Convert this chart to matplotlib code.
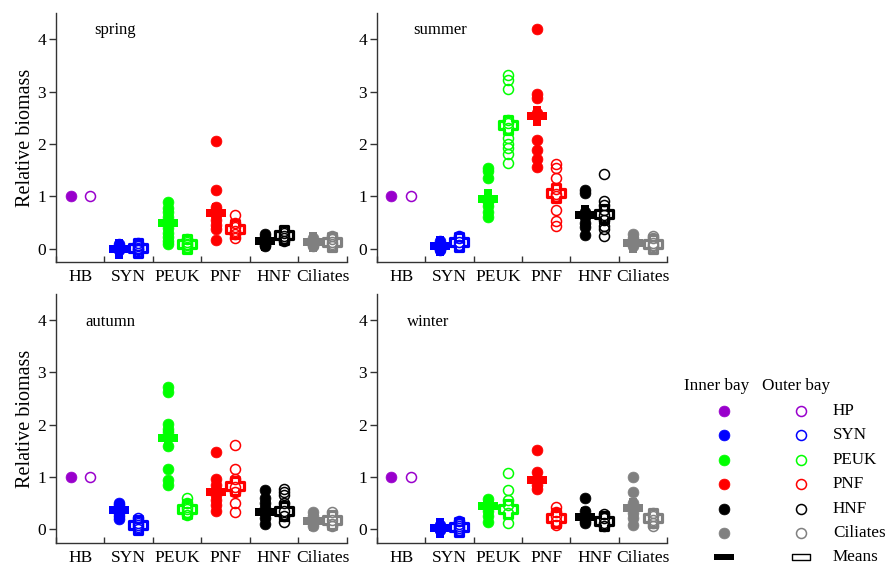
import matplotlib
matplotlib.use("Agg")
import matplotlib.pyplot as plt
from matplotlib.path import Path

plt.rcParams['font.family'] = ['Liberation Serif', 'DejaVu Serif']

groups = ["HB", "SYN", "PEUK", "PNF", "HNF", "Ciliates"]
legend_names = ["HP", "SYN", "PEUK", "PNF", "HNF", "Ciliates"]
colors = ["#9900CC", "#0000FF", "#00FF00", "#FF0000", "#000000", "#808080"]
seasons = ["spring", "summer", "autumn", "winter"]

# values (relative biomass, HB = 1)
spring_inner = [
    [1.0],
    [0.0, 0.02, 0.04, 0.06, 0.1, -0.02, 0.01, 0.03],
    [0.9, 0.78, 0.7, 0.6, 0.5, 0.4, 0.3, 0.22, 0.15, 0.1],
    [2.05, 1.12, 0.8, 0.75, 0.65, 0.55, 0.45, 0.38, 0.17],
    [0.28, 0.22, 0.17, 0.12, 0.08, 0.05],
    [0.2, 0.16, 0.12, 0.1, 0.07, 0.05],
]
spring_inner_mean = [None, 0.0, 0.5, 0.69, 0.16, 0.13]
spring_outer = [
    [1.0],
    [0.12, 0.08, 0.05, 0.02, 0.0, -0.03],
    [0.18, 0.14, 0.1, 0.07, 0.04, 0.02],
    [0.65, 0.5, 0.42, 0.35, 0.28, 0.2],
    [0.35, 0.3, 0.25, 0.2, 0.16],
    [0.24, 0.18, 0.13, 0.09, 0.05],
]
spring_outer_mean = [None, 0.02, 0.09, 0.37, 0.27, 0.14]

summer_inner = [
    [1.0],
    [0.15, 0.1, 0.06, 0.03, 0.0, -0.02],
    [1.55, 1.48, 1.36, 0.9, 0.81, 0.7, 0.6],
    [4.19, 2.95, 2.88, 2.6, 2.08, 1.89, 1.72, 1.57],
    [1.12, 1.06, 0.7, 0.6, 0.5, 0.41, 0.27],
    [0.28, 0.2, 0.15, 0.1, 0.05],
]
summer_inner_mean = [None, 0.06, 0.95, 2.53, 0.65, 0.11]
summer_outer = [
    [1.0],
    [0.25, 0.2, 0.13, 0.08, 0.05],
    [3.31, 3.22, 3.05, 2.45, 2.4, 2.3, 2.11, 2.0, 1.92, 1.81, 1.63],
    [1.61, 1.54, 1.35, 1.15, 1.05, 1.0, 0.74, 0.53, 0.44],
    [1.43, 0.91, 0.84, 0.75, 0.65, 0.55, 0.44, 0.38, 0.25],
    [0.25, 0.2, 0.12, 0.08, 0.05],
]
summer_outer_mean = [None, 0.13, 2.37, 1.07, 0.66, 0.1]

autumn_inner = [
    [1.0],
    [0.5, 0.45, 0.4, 0.35, 0.3, 0.25, 0.19],
    [2.71, 2.63, 2.01, 1.92, 1.85, 1.59, 1.15, 0.94, 0.85],
    [1.48, 0.96, 0.85, 0.75, 0.65, 0.55, 0.45, 0.34],
    [0.75, 0.6, 0.5, 0.4, 0.3, 0.2, 0.1],
    [0.32, 0.25, 0.18, 0.12, 0.05],
]
autumn_inner_mean = [None, 0.37, 1.75, 0.71, 0.32, 0.15]
autumn_outer = [
    [1.0],
    [0.2, 0.12, 0.08, 0.04, 0.0],
    [0.6, 0.5, 0.42, 0.38, 0.32, 0.27],
    [1.6, 1.15, 0.95, 0.8, 0.7, 0.5, 0.32],
    [0.77, 0.7, 0.65, 0.5, 0.35, 0.25, 0.13],
    [0.32, 0.25, 0.18, 0.1, 0.05],
]
autumn_outer_mean = [None, 0.08, 0.39, 0.83, 0.35, 0.17]

winter_inner = [
    [1.0],
    [0.08, 0.04, 0.02, 0.0, -0.02],
    [0.57, 0.5, 0.45, 0.35, 0.25, 0.13],
    [1.52, 1.09, 0.95, 0.85, 0.76],
    [0.6, 0.35, 0.25, 0.15, 0.12],
    [1.0, 0.7, 0.5, 0.4, 0.3, 0.2, 0.08],
]
winter_inner_mean = [None, 0.01, 0.44, 0.93, 0.23, 0.41]
winter_outer = [
    [1.0],
    [0.15, 0.1, 0.05, 0.02, -0.02],
    [1.08, 0.74, 0.55, 0.45, 0.3, 0.11],
    [0.42, 0.33, 0.25, 0.15, 0.08],
    [0.28, 0.2, 0.12, 0.05],
    [0.3, 0.25, 0.18, 0.12, 0.05],
]
winter_outer_mean = [None, 0.03, 0.39, 0.2, 0.15, 0.2]

inner_data = [spring_inner, summer_inner, autumn_inner, winter_inner]
inner_means = [spring_inner_mean, summer_inner_mean, autumn_inner_mean, winter_inner_mean]
outer_data = [spring_outer, summer_outer, autumn_outer, winter_outer]
outer_means = [spring_outer_mean, summer_outer_mean, autumn_outer_mean, winter_outer_mean]

# fat plus marker used for the means
w = 0.43
plus_verts = [(-w, -1), (w, -1), (w, -w), (1, -w), (1, w), (w, w), (w, 1), (-w, 1),
              (-w, w), (-1, w), (-1, -w), (-w, -w), (-w, -1)]
plus_marker = Path(plus_verts, closed=True)
rect_marker = Path([(-1, -0.33), (1, -0.33), (1, 0.33), (-1, 0.33), (-1, -0.33)], closed=True)

fig = plt.figure(figsize=(8.87, 5.67), dpi=100)

W, H = 887.0, 567.0
panel_boxes = [
    (56, 13, 291, 249),    # spring (left, top, width, height) in pixels
    (377, 13, 290, 249),   # summer
    (56, 294, 291, 249),   # autumn
    (377, 294, 290, 249),  # winter
]
ylims = [(-0.25, 4.5), (-0.25, 4.5), (-0.27, 4.5), (-0.27, 4.5)]
label_pos = [(0.78, 4.17), (0.75, 4.17), (0.6, 3.96), (0.62, 3.96)]
axcol = "#333333"

for k, season in enumerate(seasons):
    l, t, bw, bh = panel_boxes[k]
    ax = fig.add_axes([l / W, 1 - (t + bh) / H, bw / W, bh / H])
    ax.set_xlim(0, 6)
    ax.set_ylim(*ylims[k])

    for i in range(len(groups)):
        xi = i + 0.3
        xo = i + 0.7
        ax.plot([xi] * len(inner_data[k][i]), inner_data[k][i], 'o', color=colors[i],
                markersize=7.8, markeredgewidth=0.5, clip_on=False, zorder=3)
        ax.plot([xo] * len(outer_data[k][i]), outer_data[k][i], 'o', color=colors[i],
                markerfacecolor='none', markersize=7.2, markeredgewidth=1.1,
                clip_on=False, zorder=3)
        if inner_means[k][i] is not None:
            ax.plot(xi, inner_means[k][i], marker=plus_marker, color=colors[i],
                    markersize=15, markeredgewidth=0, zorder=4)
        if outer_means[k][i] is not None:
            ax.plot(xo, outer_means[k][i], marker=plus_marker, color=colors[i],
                    markerfacecolor='none', markersize=13.5, markeredgewidth=2.3, zorder=4)

    ax.text(label_pos[k][0], label_pos[k][1], season, fontsize=12, va='center', ha='left')

    for s in ['top', 'right']:
        ax.spines[s].set_visible(False)
    for s in ['left', 'bottom']:
        ax.spines[s].set_color(axcol)
        ax.spines[s].set_linewidth(1.0)

    ax.set_yticks([0, 1, 2, 3, 4])
    ax.tick_params(axis='y', direction='out', length=5, width=1.0, color=axcol,
                   labelsize=12.5, pad=2)
    ax.set_xticks(range(7))
    ax.set_xticklabels([])
    ax.set_xticks([i + 0.5 for i in range(6)], minor=True)
    ax.set_xticklabels(groups, minor=True)
    ax.tick_params(axis='x', which='major', direction='in', length=4, width=1.0, color=axcol)
    ax.tick_params(axis='x', which='minor', length=0, labelsize=12.5, pad=5)

    if k % 2 == 0:
        ax.set_ylabel("Relative biomass", fontsize=14.5, labelpad=2)

# legend drawn in pixel coordinates on an overlay
lg = fig.add_axes([0, 0, 1, 1])
lg.set_xlim(0, W)
lg.set_ylim(H, 0)
lg.axis('off')

lg.text(717, 386, "Inner bay", fontsize=12.3, ha='center', va='center')
lg.text(796, 386, "Outer bay", fontsize=12.3, ha='center', va='center')
row_y = 411
for i in range(len(legend_names)):
    lg.plot(724, row_y, 'o', color=colors[i], markersize=7.8, markeredgewidth=0.5)
    lg.plot(801, row_y, 'o', color=colors[i], markerfacecolor='none',
            markersize=7.2, markeredgewidth=1.1)
    lg.text(833, row_y, legend_names[i], fontsize=12.3, ha='left', va='center')
    row_y += 24.4
lg.plot(724, row_y, marker=rect_marker, color='black', markersize=15, markeredgewidth=0)
lg.plot(801, row_y, marker=rect_marker, color='black', markerfacecolor='none',
        markersize=13.5, markeredgewidth=1.0)
lg.text(833, row_y, "Means", fontsize=12.3, ha='left', va='center')

fig.savefig("out.png", dpi=100)
